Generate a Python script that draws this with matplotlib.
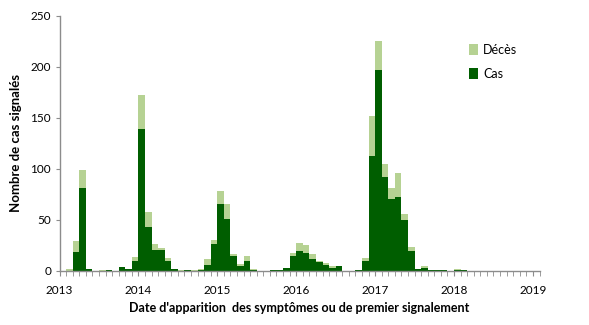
import numpy as np
import matplotlib
matplotlib.use("Agg")
import matplotlib.pyplot as plt

# -> Monthly counts, Jan to Dec of each year
years = ["2013", "2014", "2015", "2016", "2017", "2018", "2019"]

cas_2013 = [0, 0, 18, 81, 2, 0, 0, 1, 0, 4, 2, 10]
cas_2014 = [139, 43, 20, 20, 10, 2, 0, 1, 0, 1, 6, 26]
cas_2015 = [65, 51, 14, 5, 10, 1, 0, 0, 1, 1, 3, 14]
cas_2016 = [19, 17, 11, 9, 6, 3, 5, 0, 0, 1, 10, 113]
cas_2017 = [197, 92, 70, 72, 50, 19, 2, 3, 1, 1, 1, 0]
cas_2018 = [1, 1, 0, 0, 0, 0, 0, 0, 0, 0, 0, 0]

deces_2013 = [0, 2, 11, 18, 0, 0, 1, 0, 0, 0, 0, 3]
deces_2014 = [33, 15, 6, 2, 2, 0, 1, 0, 1, 1, 5, 4]
deces_2015 = [13, 14, 2, 2, 4, 1, 0, 0, 0, 0, 0, 3]
deces_2016 = [8, 8, 5, 1, 2, 2, 0, 0, 0, 0, 2, 39]
deces_2017 = [28, 13, 11, 24, 6, 4, 0, 2, 0, 0, 0, 0]
deces_2018 = [1, 0, 0, 0, 0, 0, 0, 0, 0, 0, 0, 0]

DARK = "#005E00"
LIGHT = "#B6D293"
GREY = "#8C8C8C"


def build_series():
    cas = np.array(cas_2013 + cas_2014 + cas_2015 + cas_2016 + cas_2017 + cas_2018)
    deces = np.array(deces_2013 + deces_2014 + deces_2015 + deces_2016 + deces_2017 + deces_2018)
    return cas, deces


def figureSettings(n_months):
    fig = plt.figure(figsize=(5.89, 3.25), dpi=100)
    ax = fig.add_axes([59.5 / 589, 1 - 270.7 / 325, 480 / 589, (270.7 - 16) / 325])

    ax.set_xlim(0, n_months + 1)
    ax.set_ylim(0, 250)
    ax.set_yticks(np.arange(0, 251, 50))
    ax.set_xticks(np.arange(0, n_months + 1, 12))
    ax.set_xticklabels(years)
    ax.set_xticks(np.arange(0, n_months + 2, 1), minor=True)

    for side in ["top", "right"]:
        ax.spines[side].set_visible(False)
    for side in ["left", "bottom"]:
        ax.spines[side].set_color(GREY)
        ax.spines[side].set_linewidth(1)

    ax.tick_params(axis="both", which="both", color=GREY, direction="out",
                   labelsize=8.5, labelcolor="black")
    ax.tick_params(axis="x", which="both", length=3.5, pad=7)
    ax.tick_params(axis="y", length=3, pad=3)

    ax.set_xlabel("Date d'apparition  des symptômes ou de premier signalement",
                  fontweight="bold", fontsize=9, labelpad=4)
    ax.set_ylabel("Nombre de cas signalés", fontweight="bold", fontsize=9.5, labelpad=6)
    return fig, ax


def plotStacked(cas, deces):
    n_months = len(cas)
    fig, ax = figureSettings(n_months)
    x = np.arange(n_months)

    ax.bar(x, cas, width=1.0, align="edge", color=DARK, linewidth=0, label="Cas")
    ax.bar(x, deces, width=1.0, align="edge", bottom=cas, color=LIGHT, linewidth=0, label="Décès")

    handles, labels = ax.get_legend_handles_labels()
    ax.legend(handles[::-1], labels[::-1], loc="upper left", bbox_to_anchor=(0.83, 0.935),
              frameon=False, fontsize=9, handlelength=0.7, handleheight=0.9,
              handletextpad=0.4, labelspacing=0.95)
    return fig


if __name__ == "__main__":
    plt.rcParams["font.family"] = ["Lato", "DejaVu Sans"]
    cas, deces = build_series()
    fig = plotStacked(cas, deces)
    fig.savefig("out.png", dpi=100)
